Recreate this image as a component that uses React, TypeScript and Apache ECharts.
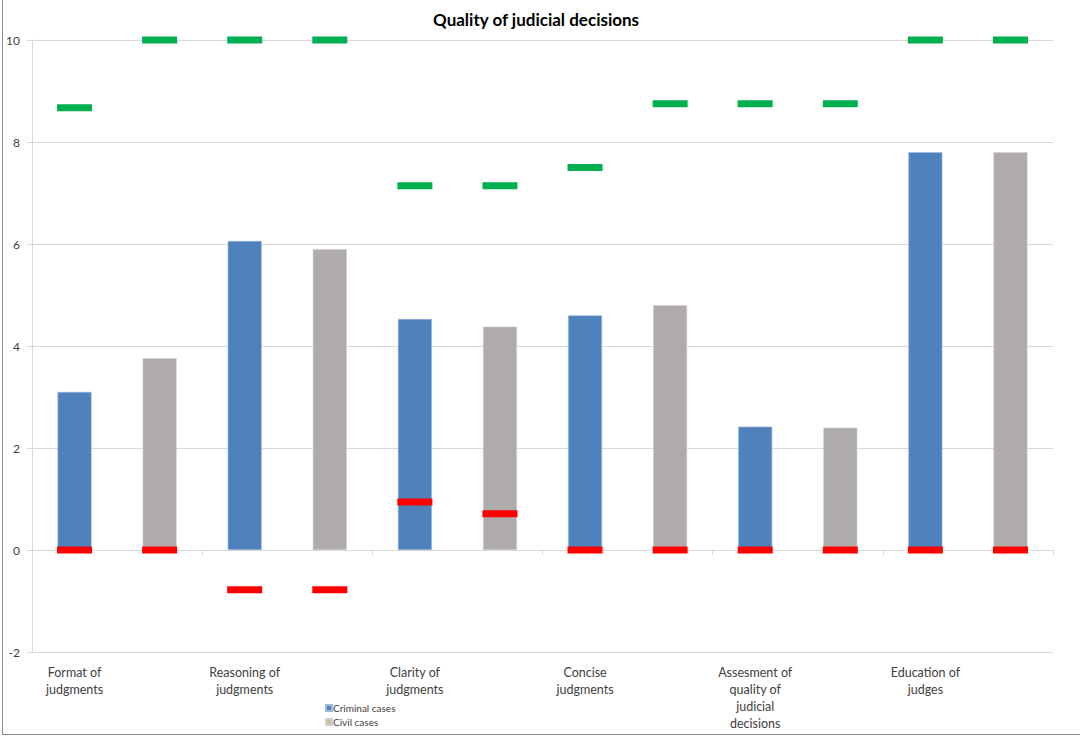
import React, { useEffect, useRef } from "react";
import * as echarts from "echarts";

const topics = [
  "Format of\njudgments",
  "Reasoning of\njudgments",
  "Clarity of\njudgments",
  "Concise\njudgments",
  "Assesment of\nquality of\njudicial\ndecisions",
  "Education of\njudges",
];
// 12 slots: criminal then civil for each topic
const categories = topics.flatMap((t) => [t, t + " "]);
const criminalValues = [3.1, 6.06, 4.53, 4.6, 2.42, 7.8];
const civilValues = [3.76, 5.9, 4.38, 4.8, 2.4, 7.8];
const maxValues = [8.67, 10, 10, 10, 7.14, 7.14, 7.5, 8.75, 8.75, 8.75, 10, 10];
const minValues = [0, 0, -0.78, -0.78, 0.94, 0.71, 0, 0, 0, 0, 0, 0];
const yTicks = { min: -2, max: 10, interval: 2 };

const FONT = "Lato, 'Open Sans', sans-serif";

export default function App() {
  const ref = useRef<HTMLDivElement>(null);
  useEffect(() => {
    if (!ref.current) return;
    const chart = echarts.init(ref.current, null, { renderer: "svg" });
    const criminal = categories.map((_, i) => (i % 2 === 0 ? criminalValues[i / 2] : "-"));
    const civil = categories.map((_, i) => (i % 2 === 1 ? civilValues[(i - 1) / 2] : "-"));
    chart.setOption({
      animation: false,
      backgroundColor: "#ffffff",
      textStyle: { fontFamily: FONT },
      title: {
        text: "Quality of judicial decisions",
        left: 428,
        top: 6,
        textStyle: { fontSize: 17, fontWeight: "bold", color: "#000", fontFamily: FONT },
      },
      legend: {
        orient: "vertical",
        left: 320,
        top: 698,
        itemWidth: 6,
        itemHeight: 6,
        itemGap: 4,
        icon: "rect",
        textStyle: { fontSize: 10, color: "#404040", fontFamily: FONT, padding: [0, 0, 0, -4] },
        data: [
          { name: "Criminal cases", itemStyle: { color: "#4f81bd" } },
          { name: "Civil cases", itemStyle: { color: "#c4bd97" } },
        ],
      },
      grid: { left: 32, right: 27, top: 40, bottom: 84, containLabel: false },
      xAxis: [
        {
          type: "category",
          data: categories,
          position: "bottom",
          axisLine: { show: false, onZero: false },
          axisTick: { show: false },
          axisLabel: {
            interval: 1,
            margin: 12,
            fontSize: 12.5,
            lineHeight: 17,
            color: "#404040",
            fontFamily: FONT,
            align: "center",
          },
        },
        {
          type: "category",
          data: categories,
          position: "bottom",
          axisLine: { show: true, onZero: true, lineStyle: { color: "#d9d9d9", width: 1 } },
          axisTick: { show: true, length: 5, lineStyle: { color: "#d9d9d9" } },
          axisLabel: { show: false },
        },
      ],
      yAxis: {
        type: "value",
        min: yTicks.min,
        max: yTicks.max,
        interval: yTicks.interval,
        axisLine: { show: true, lineStyle: { color: "#d9d9d9" } },
        axisTick: { show: true, length: 5, lineStyle: { color: "#d9d9d9" } },
        splitLine: { show: true, lineStyle: { color: "#d9d9d9" } },
        axisLabel: { fontSize: 12, color: "#404040", margin: 12, fontFamily: FONT },
      },
      series: [
        {
          name: "Criminal cases",
          type: "bar",
          data: criminal,
          barWidth: 34,
          barGap: "-100%",
          itemStyle: { color: "#4f81bd", borderColor: "#9dbbe0", borderWidth: 0.6 },
        },
        {
          name: "Civil cases",
          type: "bar",
          data: civil,
          barWidth: 34,
          barGap: "-100%",
          itemStyle: { color: "#afabab", borderColor: "#d3d0d0", borderWidth: 0.6 },
        },
        {
          name: "Max",
          type: "scatter",
          data: maxValues,
          symbol: "rect",
          symbolSize: [35, 7],
          itemStyle: { color: "#00b050", opacity: 1 },
          z: 5,
        },
        {
          name: "Min",
          type: "scatter",
          data: minValues,
          symbol: "rect",
          symbolSize: [35, 7],
          itemStyle: { color: "#ff0000", opacity: 1 },
          z: 5,
        },
      ],
      graphic: [
        { type: "line", shape: { x1: 2.5, y1: 0, x2: 2.5, y2: 735 }, style: { stroke: "#8c8c8c", lineWidth: 1 } },
        { type: "line", shape: { x1: 2, y1: 734.5, x2: 1080, y2: 734.5 }, style: { stroke: "#8c8c8c", lineWidth: 1 } },
      ],
    });
    return () => chart.dispose();
  }, []);
  return (
    <div
      ref={ref}
      style={{ position: "fixed", left: 0, top: 0, width: 1080, height: 736 }}
    />
  );
}
